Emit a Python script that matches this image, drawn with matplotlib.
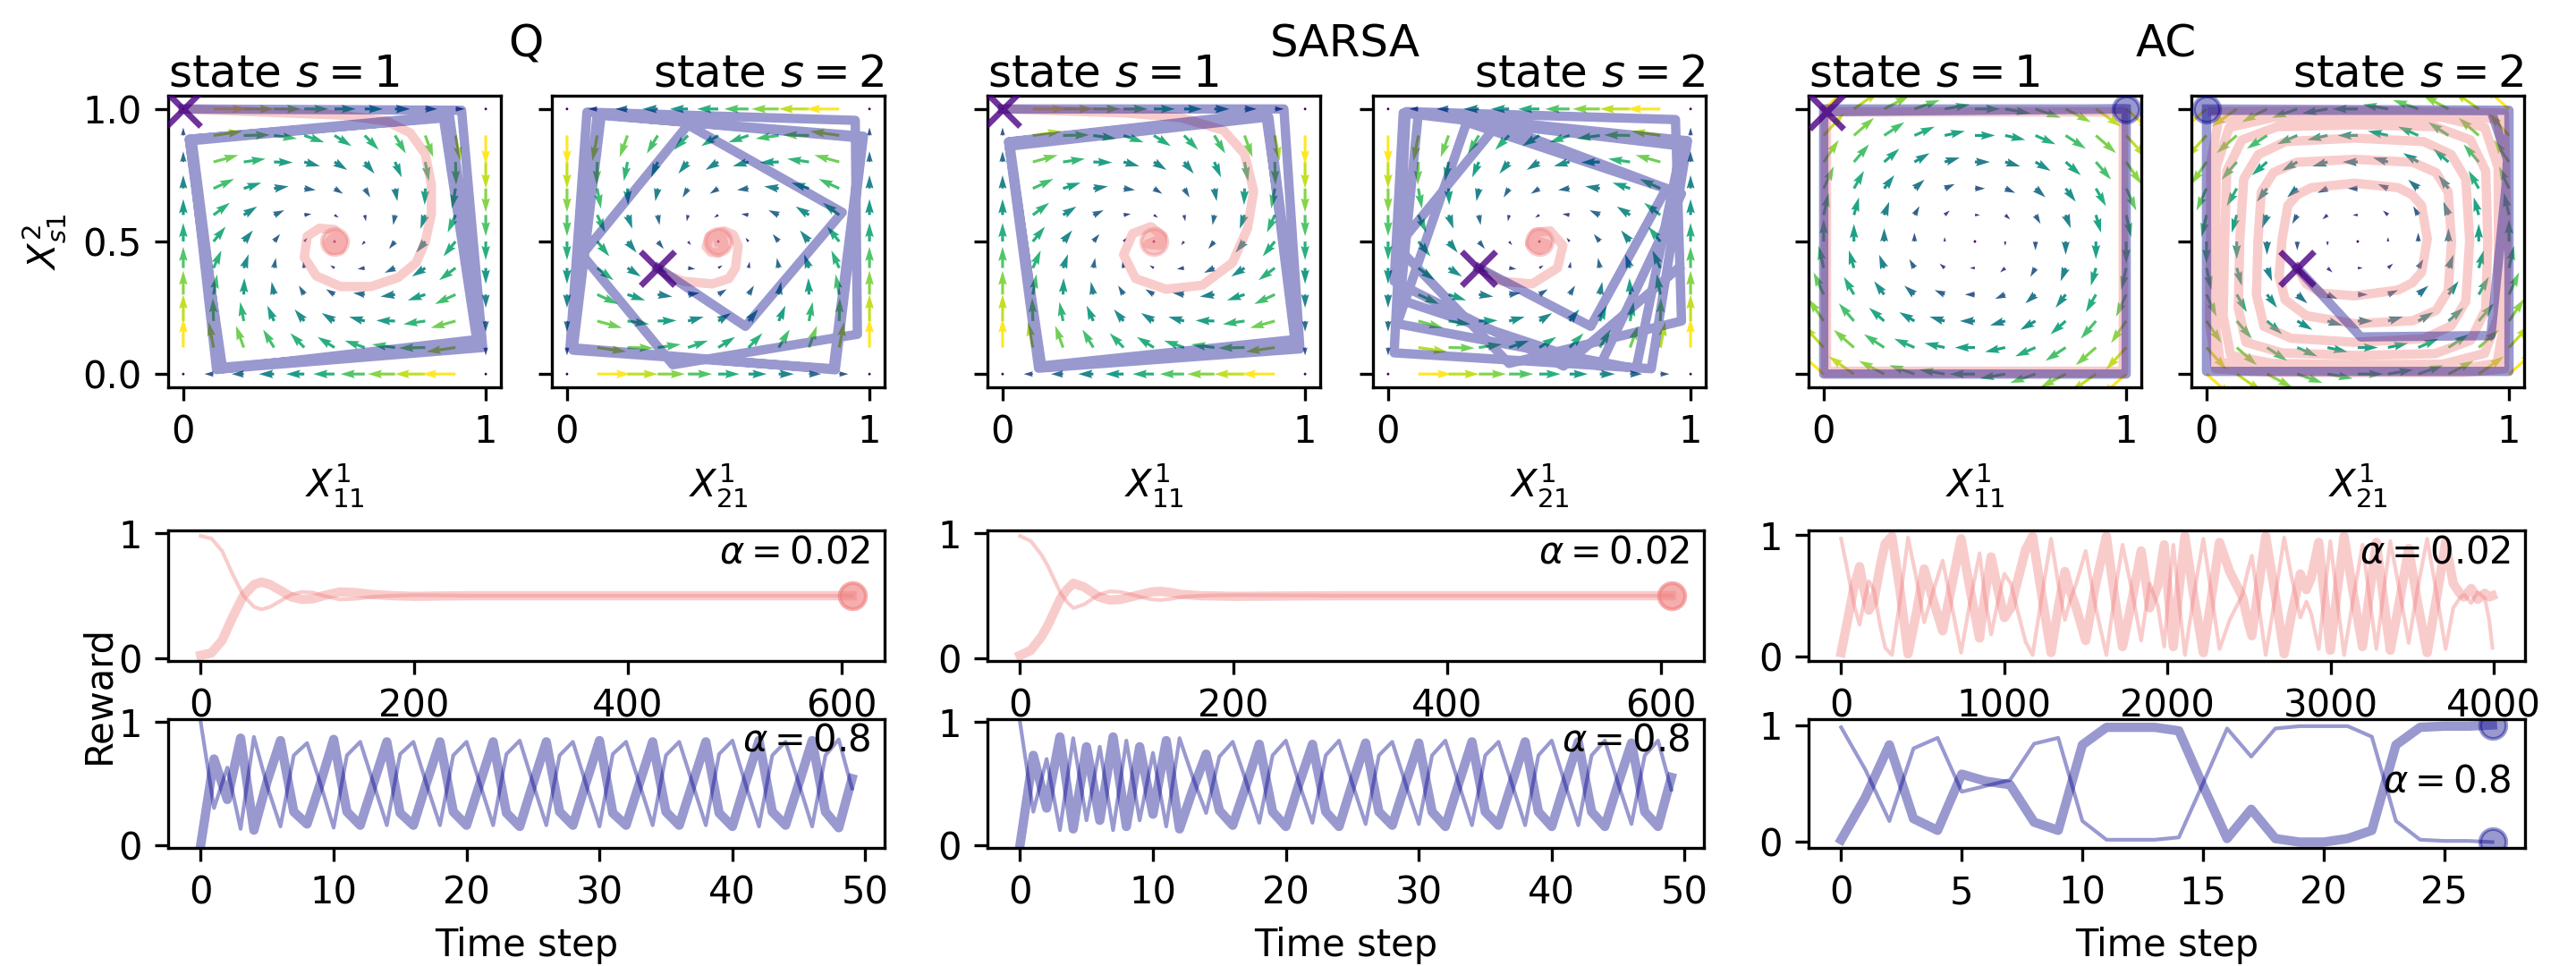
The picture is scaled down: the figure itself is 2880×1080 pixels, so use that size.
import numpy as np
import matplotlib.pyplot as plt

plt.rcParams['font.size'] = 10

pink = 'lightcoral'
blue = 'darkblue'
start_col = 'indigo'

# grid of the policy flow arrows
grid = np.linspace(0, 1, 11)

# linear flow coefficients [x, y, const] for the arrow fields
q_u_s1 = [-1.0, 1.4, -0.2]
q_v_s1 = [-1.4, -1.0, 1.2]
q_u_s2 = [-1.0, -1.4, 1.2]
q_v_s2 = [1.4, -1.0, -0.2]
ac_u_s1 = [0.0, 1.0, -0.5]
ac_v_s1 = [-1.0, 0.0, 0.5]
ac_u_s2 = [0.0, -1.0, 0.5]
ac_v_s2 = [1.0, 0.0, -0.5]

# ---- policy trajectories (x, y) ----
q1_pink = [(0.0, 1.0), (0.23, 0.99), (0.52, 0.977), (0.67, 0.955), (0.75, 0.91), (0.80, 0.83),
           (0.82, 0.716), (0.82, 0.60), (0.80, 0.50), (0.77, 0.42), (0.71, 0.364), (0.62, 0.33),
           (0.52, 0.33), (0.44, 0.37), (0.40, 0.44), (0.41, 0.52), (0.45, 0.55), (0.50, 0.545),
           (0.53, 0.506), (0.52, 0.47), (0.49, 0.466), (0.477, 0.494), (0.49, 0.51), (0.505, 0.505), (0.50, 0.50)]
q2_pink = [(0.30, 0.40), (0.34, 0.37), (0.385, 0.35), (0.48, 0.34), (0.535, 0.36), (0.557, 0.40),
           (0.566, 0.484), (0.55, 0.525), (0.52, 0.54), (0.47, 0.52), (0.46, 0.48), (0.475, 0.46),
           (0.50, 0.455), (0.52, 0.48), (0.515, 0.505), (0.50, 0.50)]
q1_blue = [(0.0, 1.0), (0.92, 0.995), (0.99, 0.10), (0.13, 0.02), (0.02, 0.886), (0.86, 0.966),
           (0.97, 0.13), (0.11, 0.017), (0.025, 0.88), (0.87, 0.97), (0.98, 0.115), (0.12, 0.02),
           (0.02, 0.885), (0.88, 0.975), (0.985, 0.11), (0.125, 0.025), (0.03, 0.875)]
q2_blue = [(0.30, 0.40), (0.59, 0.18), (0.91, 0.61), (0.40, 0.94), (0.05, 0.45), (0.35, 0.035),
           (0.96, 0.15), (0.953, 0.957), (0.066, 0.988), (0.01, 0.10), (0.887, 0.016), (0.98, 0.897),
           (0.113, 0.976), (0.02, 0.09), (0.88, 0.02), (0.975, 0.89), (0.10, 0.98), (0.015, 0.105)]

s1_pink = [(0.0, 1.0), (0.41, 0.985), (0.59, 0.967), (0.73, 0.92), (0.80, 0.83), (0.83, 0.69),
           (0.81, 0.55), (0.76, 0.42), (0.66, 0.335), (0.54, 0.32), (0.44, 0.36), (0.40, 0.45),
           (0.43, 0.53), (0.49, 0.556), (0.53, 0.52), (0.52, 0.485), (0.48, 0.49), (0.50, 0.50)]
s2_pink = [(0.30, 0.40), (0.374, 0.35), (0.476, 0.34), (0.56, 0.40), (0.578, 0.485), (0.536, 0.54),
           (0.485, 0.534), (0.468, 0.49), (0.50, 0.467), (0.527, 0.49), (0.50, 0.50)]
s1_blue = [(0.0, 1.0), (0.93, 1.0), (0.983, 0.095), (0.119, 0.022), (0.02, 0.876), (0.873, 0.985),
           (0.966, 0.13), (0.125, 0.03), (0.025, 0.86), (0.88, 0.97), (0.975, 0.11), (0.13, 0.025),
           (0.02, 0.875), (0.87, 0.98), (0.98, 0.10)]
s2_blue = [(0.30, 0.40), (0.67, 0.18), (0.92, 0.70), (0.36, 0.94), (0.03, 0.48), (0.40, 0.04),
           (0.97, 0.20), (0.95, 0.96), (0.06, 0.99), (0.02, 0.08), (0.87, 0.02), (0.99, 0.88),
           (0.10, 0.985), (0.04, 0.28), (0.70, 0.03), (0.97, 0.68), (0.26, 0.95), (0.03, 0.19),
           (0.82, 0.02), (0.97, 0.86), (0.05, 0.985), (0.02, 0.35), (0.58, 0.03), (0.96, 0.40)]

ac1_pink = [(0.01, 0.99), (0.99, 0.99), (0.99, 0.01), (0.01, 0.01), (0.01, 0.99), (0.99, 0.99),
            (0.99, 0.005), (0.005, 0.005), (0.005, 0.99)]
ac1_blue = [(0.01, 0.99), (1.0, 1.0), (1.0, 0.0), (0.0, 0.0), (0.0, 1.0), (1.0, 1.0)]
ac2_pink = [(0.30, 0.40), (0.33, 0.34), (0.38, 0.305),
            (0.49, 0.295), (0.634, 0.317), (0.68, 0.344), (0.711, 0.384), (0.73, 0.51), (0.711, 0.636),
            (0.68, 0.676), (0.634, 0.703), (0.49, 0.72), (0.346, 0.703), (0.30, 0.676), (0.269, 0.636),
            (0.25, 0.51), (0.24, 0.37), (0.26, 0.28), (0.33, 0.22),
            (0.49, 0.19), (0.682, 0.201), (0.759, 0.240), (0.799, 0.314), (0.81, 0.50), (0.799, 0.686),
            (0.759, 0.760), (0.682, 0.799), (0.49, 0.81), (0.298, 0.799), (0.221, 0.760), (0.181, 0.686),
            (0.17, 0.50), (0.165, 0.30), (0.19, 0.18), (0.28, 0.135),
            (0.49, 0.12), (0.718, 0.133), (0.809, 0.182), (0.857, 0.274), (0.87, 0.505), (0.857, 0.736),
            (0.809, 0.828), (0.718, 0.877), (0.49, 0.89), (0.262, 0.877), (0.171, 0.828), (0.123, 0.736),
            (0.11, 0.505), (0.105, 0.25), (0.13, 0.12), (0.25, 0.08),
            (0.495, 0.07), (0.756, 0.077), (0.873, 0.127), (0.923, 0.244), (0.93, 0.505), (0.923, 0.766),
            (0.873, 0.883), (0.756, 0.933), (0.495, 0.94), (0.234, 0.933), (0.117, 0.883), (0.067, 0.766),
            (0.06, 0.505), (0.055, 0.22), (0.08, 0.07), (0.22, 0.04),
            (0.50, 0.035), (0.78, 0.037), (0.92, 0.078), (0.964, 0.22), (0.965, 0.50), (0.964, 0.78),
            (0.92, 0.93), (0.78, 0.968), (0.50, 0.97), (0.22, 0.968), (0.075, 0.93), (0.032, 0.78),
            (0.03, 0.50), (0.028, 0.20), (0.045, 0.045), (0.20, 0.017),
            (0.50, 0.013), (0.80, 0.014), (0.96, 0.04), (0.985, 0.20), (0.987, 0.50), (0.986, 0.80),
            (0.96, 0.96), (0.80, 0.986), (0.50, 0.987), (0.20, 0.986), (0.04, 0.96), (0.014, 0.80),
            (0.013, 0.50), (0.01, 0.20), (0.03, 0.02), (0.20, 0.007),
            (0.50, 0.006), (0.85, 0.006), (0.985, 0.02), (0.994, 0.50), (0.985, 0.985), (0.50, 0.994),
            (0.02, 0.99)]
ac2_blue = [(0.30, 0.40), (0.51, 0.14), (0.94, 0.145), (0.99, 0.706), (0.995, 0.81), (0.94, 0.995),
            (0.0, 0.995), (0.0, 0.01), (1.0, 0.01), (1.0, 0.995), (0.0, 1.0)]

# ---- rewards, alpha = 0.02 ----
q_t_slow = [0, 10, 20, 30, 40, 50, 57, 65, 75, 85, 95, 105, 115, 130, 145, 160, 180, 200, 250, 300, 400, 500, 610]
q_r1_slow = [0.02, 0.04, 0.14, 0.33, 0.50, 0.59, 0.61, 0.59, 0.54, 0.49, 0.47, 0.475, 0.50, 0.53, 0.525,
             0.51, 0.50, 0.495, 0.50, 0.50, 0.50, 0.50, 0.50]
q_r2_slow = [0.98, 0.96, 0.86, 0.67, 0.50, 0.41, 0.39, 0.41, 0.46, 0.51, 0.53, 0.525, 0.50, 0.47, 0.475,
             0.49, 0.50, 0.505, 0.50, 0.50, 0.50, 0.50, 0.50]
s_t_slow = [0, 10, 20, 26, 32, 38, 44, 50, 60, 74, 84, 94, 104, 113, 123, 132, 142, 151, 170, 200, 300, 400, 500, 610]
s_r1_slow = [0.02, 0.06, 0.17, 0.26, 0.37, 0.48, 0.55, 0.60, 0.57, 0.49, 0.465, 0.47, 0.49, 0.51, 0.53,
             0.535, 0.525, 0.51, 0.50, 0.495, 0.50, 0.50, 0.50, 0.50]
s_r2_slow = [0.98, 0.94, 0.83, 0.74, 0.63, 0.52, 0.45, 0.40, 0.43, 0.51, 0.535, 0.53, 0.51, 0.49, 0.47,
             0.465, 0.475, 0.49, 0.50, 0.505, 0.50, 0.50, 0.50, 0.50]
ac_t_slow = [0, 40, 80, 113, 140, 170, 200, 240, 270, 311,
             360, 410, 460, 509, 560, 622, 680, 735, 790, 848,
             880, 919, 960, 1000, 1040, 1080, 1130, 1173, 1230, 1286,
             1330, 1371, 1400, 1440, 1498, 1560, 1625, 1680, 1724, 1780,
             1838, 1890, 1940, 1979, 2005, 2035, 2070, 2106, 2160, 2219,
             2270, 2318, 2380, 2459, 2490, 2516, 2560, 2601, 2660, 2714,
             2760, 2813, 2850, 2880, 2926, 2960, 2997, 3040, 3081, 3140,
             3194, 3240, 3279, 3320, 3364, 3420, 3477, 3530, 3590, 3650,
             3703, 3750, 3790, 3816, 3860, 3900, 3943, 3970, 3990]
ac_r1_slow = [0.03, 0.30, 0.58, 0.74, 0.55, 0.38, 0.45, 0.75, 0.93, 0.99,
              0.55, 0.02, 0.35, 0.72, 0.48, 0.21, 0.60, 0.97, 0.55, 0.15,
              0.50, 0.82, 0.55, 0.32, 0.40, 0.62, 0.88, 0.99, 0.50, 0.03,
              0.40, 0.70, 0.55, 0.40, 0.13, 0.60, 0.99, 0.45, 0.08, 0.45,
              0.87, 0.40, 0.58, 0.92, 0.50, 0.08, 0.55, 0.99, 0.50, 0.03,
              0.50, 0.94, 0.70, 0.49, 0.30, 0.17, 0.60, 0.99, 0.50, 0.02,
              0.35, 0.68, 0.55, 0.65, 0.94, 0.50, 0.05, 0.55, 0.99, 0.50,
              0.08, 0.55, 0.94, 0.50, 0.05, 0.45, 0.89, 0.45, 0.03, 0.50,
              0.94, 0.60, 0.52, 0.49, 0.56, 0.47, 0.52, 0.49, 0.50]
ac_r2_slow = [0.97, 0.70, 0.42, 0.26, 0.45, 0.62, 0.55, 0.25, 0.07, 0.01,
              0.45, 0.98, 0.65, 0.28, 0.52, 0.79, 0.40, 0.03, 0.45, 0.85,
              0.50, 0.18, 0.45, 0.68, 0.60, 0.38, 0.12, 0.01, 0.50, 0.97,
              0.60, 0.30, 0.45, 0.60, 0.87, 0.40, 0.01, 0.55, 0.92, 0.55,
              0.13, 0.60, 0.42, 0.08, 0.50, 0.92, 0.45, 0.01, 0.50, 0.97,
              0.50, 0.06, 0.30, 0.51, 0.70, 0.83, 0.40, 0.01, 0.50, 0.98,
              0.65, 0.32, 0.45, 0.35, 0.06, 0.50, 0.95, 0.45, 0.01, 0.50,
              0.92, 0.45, 0.06, 0.50, 0.95, 0.55, 0.11, 0.55, 0.97, 0.50,
              0.06, 0.40, 0.48, 0.51, 0.44, 0.53, 0.48, 0.30, 0.07]

# ---- rewards, alpha = 0.8 ----
q_r1_fast = [0.00, 0.70, 0.37, 0.87, 0.12, 0.52, 0.85, 0.27, 0.17, 0.50,
             0.86, 0.27, 0.16, 0.50, 0.84, 0.26, 0.16, 0.51, 0.84, 0.27,
             0.16, 0.50, 0.84, 0.26, 0.15, 0.50, 0.84, 0.27, 0.16, 0.51,
             0.85, 0.26, 0.16, 0.50, 0.84, 0.27, 0.16, 0.50, 0.84, 0.26,
             0.15, 0.51, 0.85, 0.27, 0.16, 0.50, 0.85, 0.27, 0.14, 0.54]
q_r2_fast = [1.00, 0.30, 0.63, 0.13, 0.88, 0.48, 0.15, 0.73, 0.83, 0.50,
             0.14, 0.73, 0.84, 0.50, 0.16, 0.74, 0.84, 0.49, 0.16, 0.73,
             0.84, 0.50, 0.16, 0.74, 0.85, 0.50, 0.16, 0.73, 0.84, 0.49,
             0.15, 0.74, 0.84, 0.50, 0.16, 0.73, 0.84, 0.50, 0.16, 0.74,
             0.85, 0.49, 0.15, 0.73, 0.84, 0.50, 0.15, 0.73, 0.86, 0.46]
s_r1_fast = [0.00, 0.73, 0.30, 0.88, 0.13, 0.80, 0.20, 0.88, 0.15, 0.80,
             0.25, 0.85, 0.13, 0.45, 0.74, 0.28, 0.16, 0.48, 0.82, 0.27,
             0.15, 0.50, 0.82, 0.27, 0.15, 0.50, 0.83, 0.27, 0.16, 0.50,
             0.83, 0.27, 0.15, 0.50, 0.84, 0.27, 0.16, 0.50, 0.84, 0.27,
             0.15, 0.50, 0.84, 0.27, 0.15, 0.50, 0.83, 0.27, 0.15, 0.55]
s_r2_fast = [1.00, 0.27, 0.70, 0.12, 0.87, 0.20, 0.80, 0.12, 0.85, 0.20,
             0.75, 0.15, 0.87, 0.55, 0.26, 0.72, 0.84, 0.52, 0.18, 0.73,
             0.85, 0.50, 0.18, 0.73, 0.85, 0.50, 0.17, 0.73, 0.84, 0.50,
             0.17, 0.73, 0.85, 0.50, 0.16, 0.73, 0.84, 0.50, 0.16, 0.73,
             0.85, 0.50, 0.16, 0.73, 0.85, 0.50, 0.17, 0.73, 0.85, 0.45]
ac_r1_fast = [0.02, 0.38, 0.83, 0.20, 0.10, 0.58, 0.52, 0.49, 0.17, 0.10,
              0.83, 0.98, 0.98, 0.98, 0.95, 0.48, 0.03, 0.28, 0.03, 0.00,
              0.00, 0.03, 0.10, 0.83, 0.98, 0.99, 0.99, 1.00]
ac_r2_fast = [0.98, 0.62, 0.18, 0.80, 0.89, 0.43, 0.48, 0.53, 0.84, 0.89,
              0.18, 0.02, 0.02, 0.02, 0.04, 0.50, 0.97, 0.73, 0.97, 0.99,
              0.99, 0.99, 0.90, 0.18, 0.02, 0.01, 0.01, 0.00]


def draw_field(ax, cu, cv, boundary, scale):
    X, Y = np.meshgrid(grid, grid)
    U = cu[0] * X + cu[1] * Y + cu[2]
    V = cv[0] * X + cv[1] * Y + cv[2]
    if boundary:
        U = U * ((X > 0) & (X < 1))
        V = V * ((Y > 0) & (Y < 1))
    M = np.hypot(U, V)
    ax.quiver(X, Y, U, V, M, cmap='viridis', angles='xy', scale_units='xy',
              scale=scale, pivot='tail', width=0.0085, zorder=1)


def draw_traj(ax, pts, color, end=False):
    pts = np.array(pts)
    ax.plot(pts[:, 0], pts[:, 1], color=color, alpha=0.4, lw=2.5, zorder=2)
    ax.plot(pts[0, 0], pts[0, 1], 'x', color=start_col, alpha=0.55, ms=9, mew=1.6, zorder=4)
    if end:
        ax.plot(pts[-1, 0], pts[-1, 1], 'o', color=color, alpha=0.4, ms=7, zorder=3)


fig = plt.figure(figsize=(9.6, 3.6), dpi=300)

W, H = 2880.0, 1080.0
tops_left = [188, 617, 1104, 1535, 2022, 2450]
pair_left = [188, 1104, 2022]
algos = ['Q', 'SARSA', 'AC']

fields = [(q_u_s1, q_v_s1, q_u_s2, q_v_s2, True, 10),
          (q_u_s1, q_v_s1, q_u_s2, q_v_s2, True, 10),
          (ac_u_s1, ac_v_s1, ac_u_s2, ac_v_s2, False, 6)]
trajs = [(q1_pink, q1_blue, q2_pink, q2_blue),
         (s1_pink, s1_blue, s2_pink, s2_blue),
         (ac1_pink, ac1_blue, ac2_pink, ac2_blue)]
slow = [(q_t_slow, q_r1_slow, q_r2_slow), (s_t_slow, s_r1_slow, s_r2_slow),
        (ac_t_slow, ac_r1_slow, ac_r2_slow)]
fast = [(q_r1_fast, q_r2_fast), (s_r1_fast, s_r2_fast), (ac_r1_fast, ac_r2_fast)]

for k in range(3):
    cu1, cv1, cu2, cv2, bnd, sc = fields[k]
    p1, b1, p2, b2 = trajs[k]
    for s in range(2):
        left = tops_left[2 * k + s]
        ax = fig.add_axes([left / W, 1 - 433 / H, 372 / W, 326 / H])
        if s == 0:
            draw_field(ax, cu1, cv1, bnd, sc)
            draw_traj(ax, p1, pink, end=(k < 2))
            draw_traj(ax, b1, blue, end=(k == 2))
            ax.set_title('state $s=1$', loc='left', pad=2)
            ax.set_xlabel(r'$X^1_{11}$', labelpad=3)
        else:
            draw_field(ax, cu2, cv2, bnd, sc)
            draw_traj(ax, p2, pink, end=(k < 2))
            draw_traj(ax, b2, blue, end=(k == 2))
            ax.set_title('state $s=2$', loc='right', pad=2)
            ax.set_xlabel(r'$X^1_{21}$', labelpad=3)
        ax.set_xlim(-0.05, 1.05)
        ax.set_ylim(-0.05, 1.05)
        ax.set_xticks([0, 1])
        ax.set_yticks([0, 0.5, 1])
        if k == 0 and s == 0:
            ax.set_ylabel(r'$X^2_{s1}$')
        else:
            ax.set_yticklabels([])

    fig.text((pair_left[k] + 400) / W, 1 - 50 / H, algos[k], ha='center', va='center', fontsize=12)

    # rewards for the slow learning rate
    t, r1, r2 = slow[k]
    axr = fig.add_axes([pair_left[k] / W, 1 - 739 / H, 801 / W, 146 / H])
    axr.plot(t, r1, color=pink, alpha=0.4, lw=2.5)
    axr.plot(t, r2, color=pink, alpha=0.4, lw=1.0)
    if k < 2:
        axr.plot(t[-1], r1[-1], 'o', color=pink, alpha=0.4, ms=7)
        axr.plot(t[-1], r2[-1], 'o', color=pink, alpha=0.4, ms=7)
        axr.set_ylim(-0.025, 1.025)
    axr.set_yticks([0, 1])
    axr.text(0.98, 0.83, r'$\alpha = 0.02$', transform=axr.transAxes, ha='right', va='center')

    # rewards for the fast learning rate
    r1, r2 = fast[k]
    steps = np.arange(len(r1))
    axf = fig.add_axes([pair_left[k] / W, 1 - 948 / H, 801 / W, 144 / H])
    axf.plot(steps, r1, color=blue, alpha=0.4, lw=2.5)
    axf.plot(steps, r2, color=blue, alpha=0.4, lw=1.0)
    if k == 2:
        axf.plot(steps[-1], r1[-1], 'o', color=blue, alpha=0.4, ms=7)
        axf.plot(steps[-1], r2[-1], 'o', color=blue, alpha=0.4, ms=7)
        axf.text(0.98, 0.52, r'$\alpha = 0.8$', transform=axf.transAxes, ha='right', va='center')
    else:
        axf.set_ylim(-0.025, 1.025)
        axf.text(0.98, 0.84, r'$\alpha = 0.8$', transform=axf.transAxes, ha='right', va='center')
    axf.set_yticks([0, 1])
    axf.set_xlabel('Time step')

fig.text(110 / W, 1 - 777 / H, 'Reward', rotation=90, ha='center', va='center')

plt.savefig('out.png', dpi=300)
